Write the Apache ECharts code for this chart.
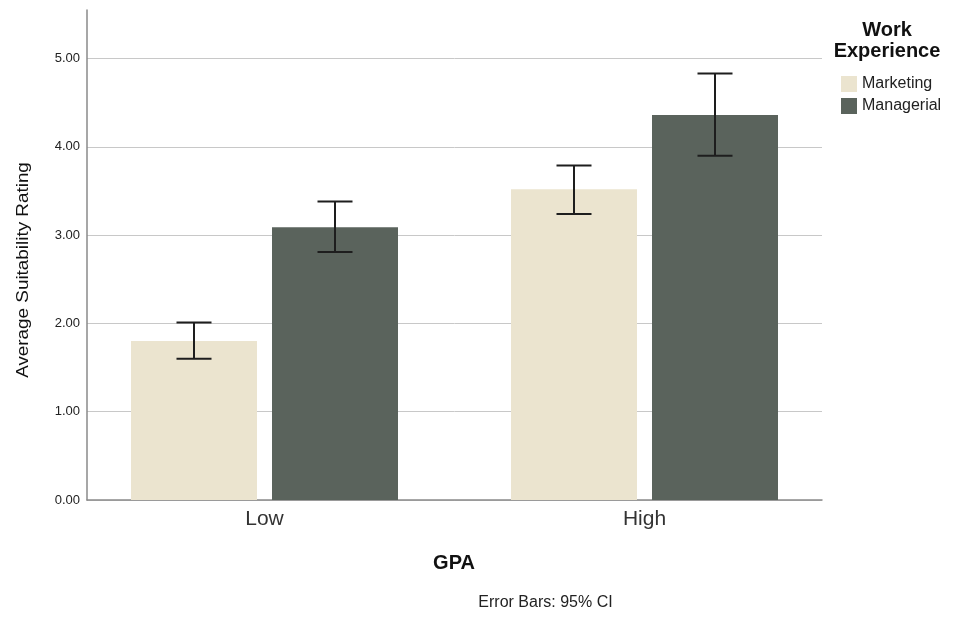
<!DOCTYPE html>
<html>
<head>
<meta charset="utf-8">
<script src="https://cdn.jsdelivr.net/npm/echarts@6/dist/echarts.min.js"></script>
<style>
  html, body { margin: 0; padding: 0; background: #fff; }
  #chart { width: 955px; height: 624px; }
</style>
</head>
<body>
<div id="chart"></div>
<script>
// data
const categories = ["Low", "High"];
const marketingMean = [1.80, 3.52];
const managerialMean = [3.09, 4.36];
const marketingLower = [1.60, 3.24];
const marketingUpper = [2.01, 3.79];
const managerialLower = [2.81, 3.90];
const managerialUpper = [3.38, 4.83];
const yTicks = [0, 1, 2, 3, 4, 5];

const FONT = "Liberation Sans, Arial, sans-serif";
const BAR_W = 126;
const BAR_GAP = 15;
const halfStep = (BAR_W + BAR_GAP) / 2;

// error bar drawn with custom series
function errorBar(offset) {
  return function (params, api) {
    const idx = api.value(0);
    const lo = api.coord([idx, api.value(1)]);
    const hi = api.coord([idx, api.value(2)]);
    const x = lo[0] + offset;
    const cap = 17.5;
    const style = { stroke: "#1e1e1e", lineWidth: 2 };
    return {
      type: "group",
      children: [
        { type: "line", shape: { x1: x, y1: hi[1], x2: x, y2: lo[1] }, style },
        { type: "line", shape: { x1: x - cap, y1: hi[1], x2: x + cap, y2: hi[1] }, style },
        { type: "line", shape: { x1: x - cap, y1: lo[1], x2: x + cap, y2: lo[1] }, style }
      ]
    };
  };
}

const chart = echarts.init(document.getElementById("chart"));
chart.setOption({
  animation: false,
  backgroundColor: "#fff",
  textStyle: { fontFamily: FONT },
  grid: [
    { left: 87, right: 133, top: 10, bottom: 124 },
    { left: 74.5, right: 120.5, top: 10, bottom: 124 }
  ],
  xAxis: [
    {
      gridIndex: 0, type: "category", data: ["", ""],
      axisLine: { lineStyle: { color: "#8a8a8a", width: 1.5 } },
      axisTick: { show: false }, axisLabel: { show: false }
    },
    {
      gridIndex: 1, type: "category", data: categories,
      axisLine: { show: false }, axisTick: { show: false },
      axisLabel: { fontSize: 21, color: "#333", margin: 9, fontFamily: FONT }
    }
  ],
  yAxis: [
    {
      gridIndex: 0, type: "value", min: 0, max: 5.55, interval: 1,
      axisLine: { show: true, lineStyle: { color: "#8a8a8a", width: 1.5 } },
      axisTick: { show: false },
      axisLabel: {
        fontSize: 13, color: "#222", margin: 7, showMaxLabel: false,
        formatter: v => yTicks.includes(v) ? v.toFixed(2) : ""
      },
      splitLine: {
        show: true,
        lineStyle: { color: ["#c8c8c8", "#c8c8c8", "#c8c8c8", "#c8c8c8", "#c8c8c8", "#c8c8c8", "transparent"], width: 1 }
      }
    },
    {
      gridIndex: 1, type: "value", min: 0, max: 5.55, interval: 1, show: false,
      splitLine: { show: false }
    }
  ],
  legend: {
    data: ["Marketing", "Managerial"],
    orient: "vertical", left: 836, top: 71,
    icon: "rect", itemWidth: 16, itemHeight: 16, itemGap: 6,
    textStyle: { fontSize: 16, color: "#222", fontFamily: FONT }
  },
  graphic: [
    {
      type: "text", x: 887, y: 30,
      style: {
        text: "Work", font: "bold 20px " + FONT, fill: "#111",
        textAlign: "center", textVerticalAlign: "middle"
      }
    },
    {
      type: "text", x: 887, y: 51,
      style: {
        text: "Experience", font: "bold 20px " + FONT, fill: "#111",
        textAlign: "center", textVerticalAlign: "middle"
      }
    },
    {
      type: "text", x: 23, y: 270, rotation: Math.PI / 2, scaleX: 1.11,
      style: {
        text: "Average Suitability Rating", font: "17px " + FONT, fill: "#111",
        textAlign: "center", textVerticalAlign: "middle"
      }
    },
    {
      type: "text", x: 454, y: 563,
      style: {
        text: "GPA", font: "bold 20px " + FONT, fill: "#111",
        textAlign: "center", textVerticalAlign: "middle"
      }
    },
    {
      type: "text", x: 545.5, y: 603,
      style: {
        text: "Error Bars: 95% CI", font: "16px " + FONT, fill: "#222",
        textAlign: "center", textVerticalAlign: "middle"
      }
    }
  ],
  series: [
    {
      name: "Marketing", type: "bar", xAxisIndex: 1, yAxisIndex: 1,
      data: marketingMean, barWidth: BAR_W, barGap: (BAR_GAP / BAR_W * 100) + "%",
      itemStyle: { color: "#ebe4cf" }
    },
    {
      name: "Managerial", type: "bar", xAxisIndex: 1, yAxisIndex: 1,
      data: managerialMean, barWidth: BAR_W,
      itemStyle: { color: "#5a635c" }
    },
    {
      type: "custom", xAxisIndex: 1, yAxisIndex: 1, z: 5,
      renderItem: errorBar(-halfStep),
      data: categories.map((c, i) => [i, marketingLower[i], marketingUpper[i]])
    },
    {
      type: "custom", xAxisIndex: 1, yAxisIndex: 1, z: 5,
      renderItem: errorBar(halfStep),
      data: categories.map((c, i) => [i, managerialLower[i], managerialUpper[i]])
    }
  ]
});
</script>
</body>
</html>
